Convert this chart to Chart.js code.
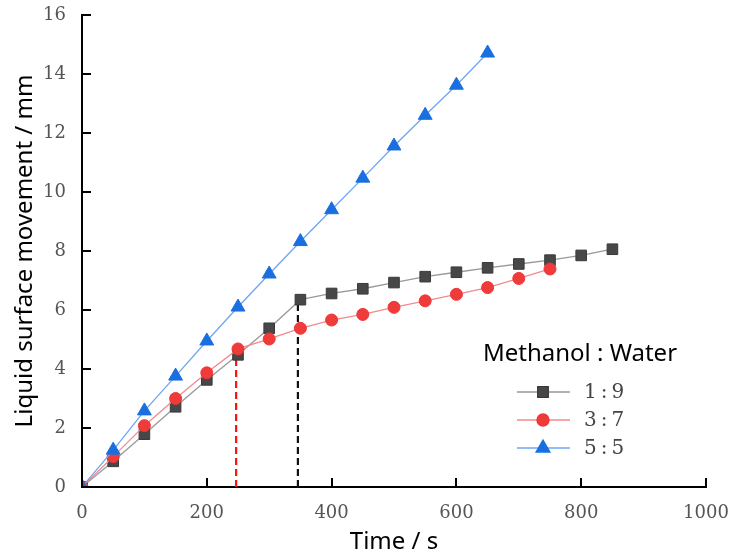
<!DOCTYPE html>
<html lang="en">
<head>
<meta charset="UTF-8">
<title>Liquid surface movement</title>
<script src="https://cdn.jsdelivr.net/npm/chart.js"></script>
<style>
  html, body { margin: 0; padding: 0; background: #fff; }
  #wrap { width: 737px; height: 558px; }
</style>
</head>
<body>
<div id="wrap"><canvas id="chart" width="737" height="558"></canvas></div>
<script>
// time in seconds, sampled every 50 s
const times = [0, 50, 100, 150, 200, 250, 300, 350, 400, 450, 500, 550, 600, 650, 700, 750, 800, 850];

// liquid surface movement (mm) for each methanol : water ratio
const ratio19 = [0, 0.87, 1.79, 2.72, 3.63, 4.48, 5.38, 6.35, 6.56, 6.72, 6.93, 7.13, 7.28, 7.43, 7.56, 7.69, 7.85, 8.06];
const ratio37 = [0, 1.03, 2.08, 3.0, 3.87, 4.68, 5.02, 5.38, 5.66, 5.85, 6.09, 6.31, 6.53, 6.76, 7.07, 7.39];
const ratio55 = [0, 1.25, 2.58, 3.76, 4.95, 6.1, 7.22, 8.32, 9.4, 10.47, 11.56, 12.6, 13.62, 14.71];

const seriesLabels = ['1:9', '3:7', '5:5'];
const legendTitle = 'Methanol : Water';

// turning points marked with dashed drop lines: [time, movement]
const redMark = [247, 4.6];
const blackMark = [346, 6.32];

const xTicks = [0, 200, 400, 600, 800, 1000];
const yTicks = [0, 2, 4, 6, 8, 10, 12, 14, 16];

function toPoints(values) {
  return values.map((v, i) => ({ x: times[i], y: v }));
}

function dropLine(mark) {
  return [{ x: mark[0], y: 0 }, { x: mark[0], y: mark[1] }];
}

const tickFont = { family: 'DejaVu Serif', size: 18 };
const titleFont = { family: 'Noto Sans', size: 24, lineHeight: 1.2 };

// invisible outer tick marks only push the labels away from the axis;
// the visible ticks point inward and are drawn by innerTicks below
const spacerGrid = { display: true, drawOnChartArea: false, drawTicks: true, tickLength: 16, tickColor: 'rgba(0,0,0,0)' };

// inward tick marks on both axes
const innerTicks = {
  id: 'innerTicks',
  afterDraw(chart) {
    const ctx = chart.ctx;
    const x = chart.scales.x, y = chart.scales.y;
    ctx.save();
    ctx.strokeStyle = '#000';
    ctx.lineWidth = 2;
    ctx.beginPath();
    xTicks.forEach(t => {
      const px = Math.round(x.getPixelForValue(t));
      ctx.moveTo(px, y.bottom);
      ctx.lineTo(px, y.bottom - 9);
    });
    yTicks.forEach(t => {
      const py = Math.round(y.getPixelForValue(t));
      ctx.moveTo(x.left, py);
      ctx.lineTo(x.left + 9, py);
    });
    ctx.stroke();
    ctx.restore();
  }
};

// legend with a title, drawn inside the plot area
const ratioLegend = {
  id: 'ratioLegend',
  afterDraw(chart) {
    const ctx = chart.ctx;
    const cx = 580, titleY = 354;
    ctx.save();
    ctx.fillStyle = '#000';
    ctx.font = '24px "Noto Sans"';
    ctx.textAlign = 'center';
    ctx.textBaseline = 'middle';
    ctx.fillText(legendTitle, cx, titleY);

    ctx.textAlign = 'left';
    ctx.font = '20px "DejaVu Serif"';
    ctx.letterSpacing = '4px';
    seriesLabels.forEach((label, i) => {
      const ds = chart.data.datasets[i];
      const ly = 392 + i * 28;
      ctx.strokeStyle = ds.borderColor;
      ctx.lineWidth = 1.3;
      ctx.beginPath();
      ctx.moveTo(517, ly);
      ctx.lineTo(570, ly);
      ctx.stroke();
      ctx.fillStyle = ds.pointBackgroundColor;
      ctx.strokeStyle = ds.pointBorderColor;
      Chart.helpers.drawPoint(ctx, {
        pointStyle: ds.pointStyle,
        radius: ds.pointRadius,
        borderWidth: 1
      }, 543, ly);
      ctx.fillStyle = '#444';
      ctx.fillText(label, 584, ly + 1);
    });
    ctx.restore();
  }
};

new Chart(document.getElementById('chart'), {
  type: 'line',
  data: {
    datasets: [
      {
        label: seriesLabels[0],
        data: toPoints(ratio19),
        borderColor: '#999999',
        borderWidth: 1.3,
        pointStyle: 'rect',
        pointRadius: 7.5,
        pointBackgroundColor: '#474747',
        pointBorderColor: '#3a3a3a',
        pointBorderWidth: 1,
        order: 2
      },
      {
        label: seriesLabels[1],
        data: toPoints(ratio37),
        borderColor: '#f28a8a',
        borderWidth: 1.3,
        pointStyle: 'circle',
        pointRadius: 6,
        pointBackgroundColor: '#f03b3b',
        pointBorderColor: '#ee3535',
        pointBorderWidth: 1,
        order: 1
      },
      {
        label: seriesLabels[2],
        data: toPoints(ratio55),
        borderColor: '#6ea6ee',
        borderWidth: 1.3,
        pointStyle: 'triangle',
        pointRadius: 8,
        pointBackgroundColor: '#1a6fe0',
        pointBorderColor: '#1a6fe0',
        pointBorderWidth: 1,
        order: 0
      },
      {
        label: 'red drop',
        data: dropLine(redMark),
        borderColor: '#ff1010',
        borderWidth: 2.2,
        borderDash: [7, 4],
        pointRadius: 0,
        order: 3
      },
      {
        label: 'black drop',
        data: dropLine(blackMark),
        borderColor: '#111111',
        borderWidth: 2.2,
        borderDash: [7, 4],
        pointRadius: 0,
        order: 3
      }
    ]
  },
  options: {
    responsive: false,
    animation: false,
    layout: { padding: { left: 0, top: 15, right: 31, bottom: 0 } },
    plugins: {
      legend: { display: false },
      tooltip: { enabled: false }
    },
    scales: {
      x: {
        type: 'linear',
        min: 0,
        max: 1000,
        afterFit(scale) { scale.height = 71; },
        grid: spacerGrid,
        border: { display: true, color: '#000', width: 2 },
        ticks: { stepSize: 200, padding: 0, color: '#555', font: tickFont, maxRotation: 0, callback: v => String(v) },
        title: { display: true, text: 'Time / s', color: '#000', font: titleFont, padding: { top: 0, bottom: 1 } }
      },
      y: {
        min: 0,
        max: 16,
        afterFit(scale) { scale.width = 82; },
        grid: spacerGrid,
        border: { display: true, color: '#000', width: 2 },
        ticks: { stepSize: 2, padding: 0, color: '#555', font: tickFont, callback: v => String(v) },
        title: { display: true, text: 'Liquid surface movement / mm', color: '#000', font: titleFont, padding: { top: 11, bottom: 0 } }
      }
    }
  },
  plugins: [innerTicks, ratioLegend]
});
</script>
</body>
</html>
